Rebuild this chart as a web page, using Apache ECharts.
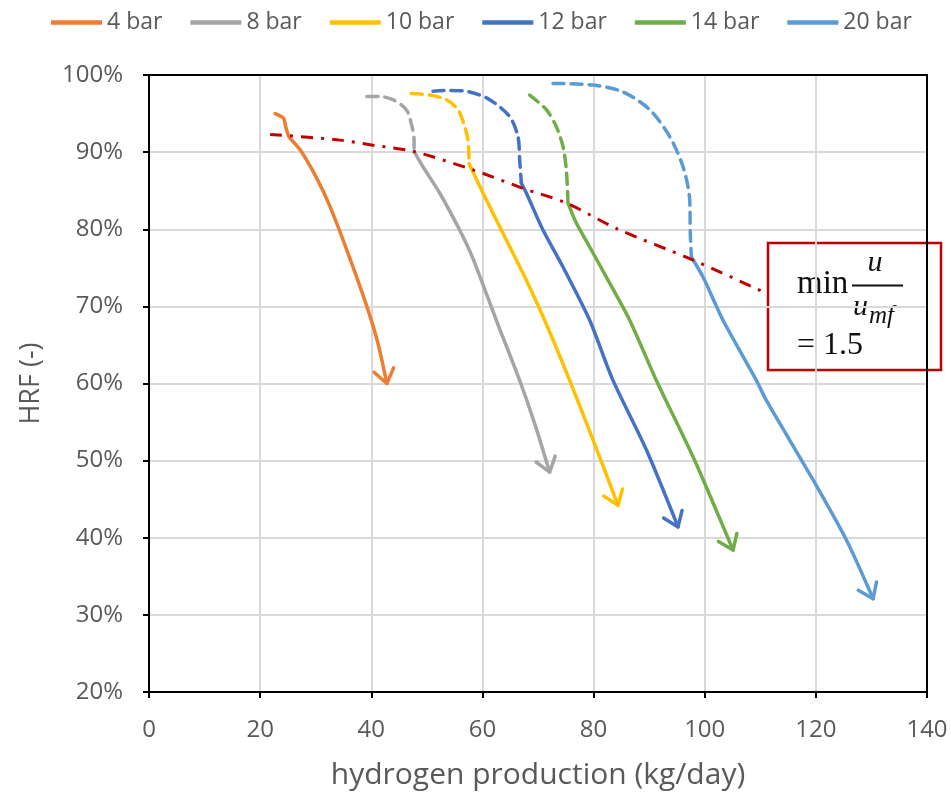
<!DOCTYPE html>
<html>
<head>
<meta charset="utf-8">
<script src="https://cdn.jsdelivr.net/npm/echarts@6/dist/echarts.min.js"></script>
<style>
  html, body { margin: 0; padding: 0; background: #fff; }
  #chart { width: 951px; height: 795px; }
</style>
</head>
<body>
<div id="chart"></div>
<script>
// Axis ranges (hydrogen production in kg/day, HRF in %)
const xMin = 0, xMax = 140, xStep = 20;
const yMin = 20, yMax = 100, yStep = 10;

const pressures = ['4 bar', '8 bar', '10 bar', '12 bar', '14 bar', '20 bar'];
const colors = ['#ED7D31', '#A5A5A5', '#FFC000', '#4472C4', '#70AD47', '#5B9BD5'];

// Dashed part of each curve (above the u/umf = 1.5 limit), [kg/day, HRF %]
const bar4Dashed = [];
const bar8Dashed = [[39.2, 97.2], [41.5, 97.2], [43.9, 96.8], [46.3, 95.5], [47.2, 93.7], [47.7, 91.6], [47.7, 90.1]];
const bar10Dashed = [[47.2, 97.6], [50.5, 97.4], [53.5, 96.8], [55.6, 95.5], [56.8, 93.3], [57.4, 91.6], [57.6, 88.5]];
const bar12Dashed = [[51.1, 97.9], [54.1, 98.0], [57.7, 97.8], [61.3, 96.8], [64.9, 94.6], [66.4, 92.0], [66.7, 89.0], [67.0, 86.0]];
const bar14Dashed = [[68.5, 97.4], [71.5, 95.5], [73.3, 93.3], [74.5, 90.7], [75.1, 87.7], [75.4, 83.4]];
const bar20Dashed = [[72.7, 98.9], [79.9, 98.7], [85.3, 97.8], [90.1, 95.5], [93.7, 92.0], [96.1, 88.1], [97.3, 83.8], [97.4, 79.5], [97.6, 76.4]];

// Solid part of each curve (ending in an arrow)
const bar4Solid = [[22.7, 95.0], [24.2, 94.4], [24.6, 93.3], [25.2, 92.0], [27.2, 90.3], [30.2, 86.6], [32.6, 82.9], [35.6, 77.3], [39.2, 70.0], [41.2, 65.2], [42.8, 60.0]];
const bar8Solid = [[47.7, 90.1], [49.3, 88.1], [52.3, 84.7], [55.9, 79.9], [58.3, 76.2], [62.5, 68.2], [66.7, 60.4], [69.4, 54.8], [72.1, 48.5]];
const bar10Solid = [[57.6, 88.5], [60.1, 84.7], [64.3, 78.6], [67.9, 73.4], [71.2, 68.2], [75.7, 60.4], [79.9, 52.7], [84.4, 44.2]];
const bar12Solid = [[67.0, 86.0], [67.9, 84.7], [70.9, 79.9], [74.5, 75.1], [79.3, 68.2], [83.5, 60.4], [89.5, 51.4], [95.2, 41.4]];
const bar14Solid = [[75.4, 83.4], [76.9, 80.8], [79.3, 77.7], [82.3, 73.8], [86.5, 68.2], [91.3, 60.4], [97.9, 50.5], [105.1, 38.4]];
const bar20Solid = [[97.6, 76.4], [99.7, 73.8], [103.3, 68.2], [109.3, 60.4], [111.1, 57.8], [119.5, 47.5], [125.5, 39.7], [130.3, 32.1]];

// Locus of min u/umf = 1.5
const minRatioLine = [[21.8, 92.3], [33.8, 91.6], [40.3, 90.9], [47.5, 90.1], [58.3, 87.7], [67.3, 85.3], [75.1, 83.4], [84.1, 80.1], [97.9, 76.0], [111.1, 71.7]];

const dashedSets = [bar4Dashed, bar8Dashed, bar10Dashed, bar12Dashed, bar14Dashed, bar20Dashed];
const solidSets = [bar4Solid, bar8Solid, bar10Solid, bar12Solid, bar14Solid, bar20Solid];

const LINE_W = 3.5;
const series = [];

pressures.forEach((name, i) => {
  series.push({
    name: name,
    type: 'line',
    data: solidSets[i],
    showSymbol: false,
    symbol: 'none',
    smooth: 0.25,
    color: colors[i],
    lineStyle: { color: colors[i], width: LINE_W, cap: 'round', join: 'round' },
    z: 3
  });
});
pressures.forEach((name, i) => {
  if (!dashedSets[i].length) return;
  series.push({
    name: name,
    type: 'line',
    data: dashedSets[i],
    showSymbol: false,
    symbol: 'none',
    smooth: 0.3,
    color: colors[i],
    lineStyle: { color: colors[i], width: LINE_W, type: [11, 7], cap: 'round' },
    z: 3
  });
});

// Arrow heads at the end of every solid curve, oriented along the last segment
const arrowData = solidSets.map((pts, i) => {
  const tip = pts[pts.length - 1];
  const prev = pts[pts.length - 2];
  return [tip[0], tip[1], prev[0], prev[1], i];
});
series.push({
  name: 'arrows',
  type: 'custom',
  data: arrowData,
  encode: { x: 0, y: 1 },
  z: 4,
  silent: true,
  renderItem: function (params, api) {
    const tip = api.coord([api.value(0), api.value(1)]);
    const from = api.coord([api.value(2), api.value(3)]);
    const ang = Math.atan2(tip[1] - from[1], tip[0] - from[0]);
    const len = 17, spread = Math.PI / 5;
    const a1 = ang + Math.PI - spread, a2 = ang + Math.PI + spread;
    return {
      type: 'polyline',
      shape: {
        points: [
          [tip[0] + len * Math.cos(a1), tip[1] + len * Math.sin(a1)],
          tip,
          [tip[0] + len * Math.cos(a2), tip[1] + len * Math.sin(a2)]
        ]
      },
      style: { stroke: colors[api.value(4)], lineWidth: LINE_W, fill: null, lineCap: 'round', lineJoin: 'round' }
    };
  }
});

series.push({
  name: 'min u/umf',
  type: 'line',
  data: minRatioLine,
  showSymbol: false,
  symbol: 'none',
  smooth: 0.3,
  lineStyle: { color: '#C00000', width: 3, type: [12, 8, 3, 8] },
  z: 5
});

const chart = echarts.init(document.getElementById('chart'), null, { renderer: 'canvas' });

const labelFont = '"Open Sans", "Liberation Sans", sans-serif';
const frameAxis = {
  axisLine: { show: true, onZero: false, lineStyle: { color: '#000', width: 2 } },
  axisTick: { show: false },
  axisLabel: { show: false },
  splitLine: { show: false }
};

chart.setOption({
  animation: false,
  backgroundColor: '#fff',
  legend: {
    data: pressures,
    top: 6,
    left: 46,
    icon: 'rect',
    itemWidth: 51,
    itemHeight: 4.5,
    itemGap: 28,
    textStyle: { fontFamily: labelFont, fontSize: 23, color: '#595959' }
  },
  grid: { left: 149, right: 24, top: 75, bottom: 103 },
  xAxis: [{
    type: 'value',
    min: xMin, max: xMax, interval: xStep,
    name: 'hydrogen production (kg/day)',
    nameLocation: 'middle',
    nameGap: 68,
    nameTextStyle: { fontFamily: labelFont, fontSize: 30, color: '#595959' },
    axisLine: { show: true, onZero: false, lineStyle: { color: '#000', width: 2 } },
    axisTick: { show: true, length: 6, lineStyle: { color: '#000', width: 2 } },
    axisLabel: { fontFamily: labelFont, fontSize: 24, color: '#595959', margin: 26 },
    splitLine: { show: true, lineStyle: { color: '#D9D9D9', width: 2 } }
  }, Object.assign({ type: 'value', position: 'top', min: xMin, max: xMax }, frameAxis)],
  yAxis: [{
    type: 'value',
    min: yMin, max: yMax, interval: yStep,
    name: 'HRF (-)',
    nameLocation: 'middle',
    nameGap: 104,
    nameTextStyle: { fontFamily: labelFont, fontSize: 27, color: '#595959' },
    axisLine: { show: true, onZero: false, lineStyle: { color: '#000', width: 2 } },
    axisTick: { show: true, length: 6, lineStyle: { color: '#000', width: 2 } },
    axisLabel: { fontFamily: labelFont, fontSize: 24, color: '#595959', margin: 26, formatter: '{value}%' },
    splitLine: { show: true, lineStyle: { color: '#D9D9D9', width: 2 } }
  }, Object.assign({ type: 'value', position: 'right', min: yMin, max: yMax }, frameAxis)],
  series: series,
  graphic: [{
    type: 'group',
    z: 100,
    children: [
      { type: 'rect', shape: { x: 768, y: 243, width: 173, height: 127 },
        style: { fill: '#fff', stroke: '#C00000', lineWidth: 2.5 } },
      { type: 'text', x: 797, y: 284,
        style: { text: 'min', font: '33px "Liberation Serif", serif', fill: '#111', verticalAlign: 'middle' } },
      { type: 'text', x: 875, y: 263,
        style: { text: 'u', font: 'italic 30px "Liberation Serif", serif', fill: '#111', align: 'center', verticalAlign: 'middle' } },
      { type: 'line', shape: { x1: 852, y1: 285.5, x2: 903, y2: 285.5 },
        style: { stroke: '#111', lineWidth: 2 } },
      { type: 'text', x: 853, y: 307,
        style: { text: 'u', font: 'italic 30px "Liberation Serif", serif', fill: '#111', verticalAlign: 'middle' } },
      { type: 'text', x: 869, y: 316,
        style: { text: 'mf', font: 'italic 25px "Liberation Serif", serif', fill: '#111', verticalAlign: 'middle' } },
      { type: 'text', x: 797, y: 346,
        style: { text: '= 1.5', font: '32px "Liberation Serif", serif', fill: '#111', verticalAlign: 'middle' } }
    ]
  }]
});
</script>
</body>
</html>
